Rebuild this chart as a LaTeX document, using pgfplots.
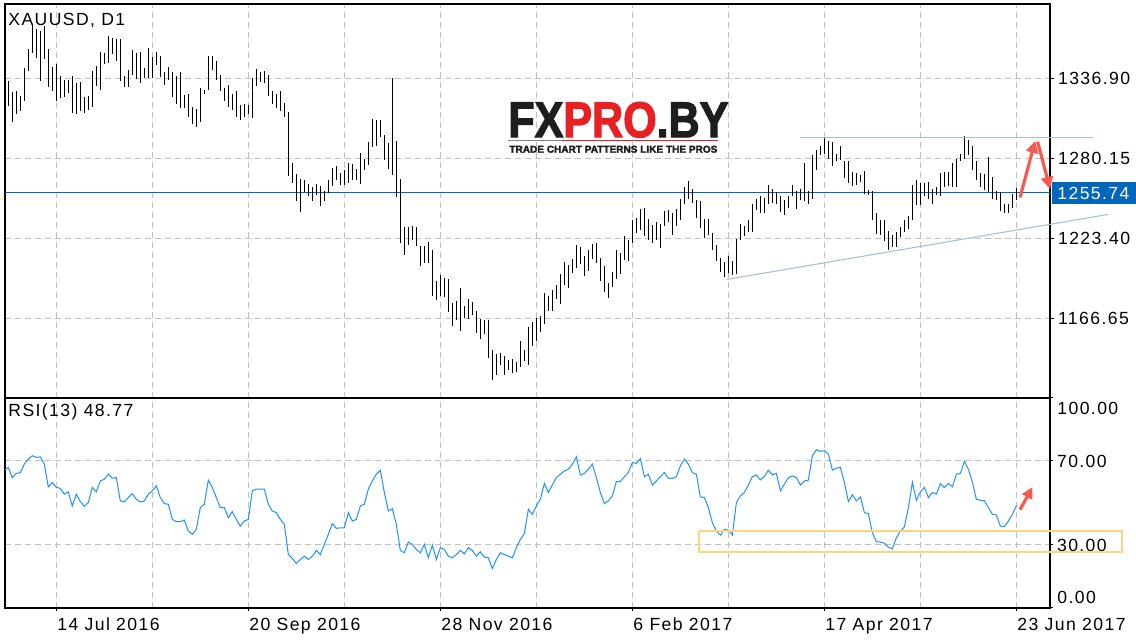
\documentclass[border=0pt]{standalone}
\usepackage{fontspec}
\setmainfont{Liberation Sans}[LetterSpace=8]
\newfontfamily\logofont{Liberation Sans}[BoldFeatures={FakeBold=2.5}]
\usepackage{graphicx}
\usepackage{pgfplots}
\pgfplotsset{compat=1.18}
\usepackage{pgfplotstable}
\usetikzlibrary{arrows.meta}

\definecolor{gridgray}{RGB}{192,192,192}
\definecolor{linblue}{RGB}{0,102,187}
\definecolor{rsiblue}{RGB}{30,144,255}
\definecolor{trend}{RGB}{165,194,212}
\definecolor{arrred}{RGB}{250,90,78}
\definecolor{boxyel}{RGB}{250,214,125}
\definecolor{logored}{RGB}{232,32,36}
\definecolor{logoblk}{RGB}{30,30,30}

\newcommand\tickfont{\fontsize{8.8}{10}\selectfont}

% daily bars: index, low, high
\pgfplotstableread{
i l h
0 1317.5 1335.3
1 1305.7 1327.0
2 1311.8 1328.4
3 1313.5 1324.6
4 1320.6 1344.3
5 1342.6 1357.8
6 1355.4 1375.0
7 1351.4 1372.0
8 1335.5 1371.0
9 1350.7 1374.3
10 1330.8 1357.8
11 1327.7 1345.4
12 1320.6 1347.1
13 1322.9 1338.8
14 1324.1 1336.0
15 1326.5 1336.0
16 1312.3 1338.8
17 1311.6 1333.6
18 1313.5 1334.1
19 1312.3 1324.1
20 1314.7 1324.6
21 1316.5 1342.4
22 1331.7 1345.9
23 1328.9 1355.6
24 1347.1 1354.9
25 1347.8 1367.2
26 1354.4 1365.6
27 1349.7 1364.9
28 1335.5 1364.9
29 1330.8 1338.8
30 1331.2 1343.1
31 1339.5 1357.3
32 1336.4 1354.9
33 1333.6 1356.1
34 1337.2 1344.3
35 1337.2 1358.5
36 1337.2 1351.9
37 1346.6 1356.1
38 1338.3 1353.0
39 1332.4 1341.9
40 1336.0 1345.4
41 1324.1 1341.9
42 1318.9 1338.8
43 1315.8 1341.9
44 1315.8 1325.3
45 1309.9 1325.8
46 1304.7 1316.5
47 1302.8 1315.4
48 1305.7 1330.0
49 1325.8 1328.9
50 1328.9 1353.0
51 1343.1 1353.0
52 1336.0 1349.5
53 1328.4 1339.5
54 1320.6 1330.5
55 1316.5 1332.4
56 1314.7 1326.0
57 1309.9 1328.2
58 1307.1 1318.2
59 1309.9 1318.9
60 1311.8 1318.2
61 1308.7 1337.2
62 1331.7 1343.5
63 1334.1 1341.2
64 1333.6 1342.4
65 1324.6 1339.5
66 1318.7 1328.4
67 1315.8 1326.0
68 1313.5 1328.4
69 1309.9 1319.4
70 1267.3 1313.0
71 1262.6 1276.8
72 1250.2 1269.2
73 1241.7 1265.4
74 1255.9 1264.9
75 1253.1 1262.1
76 1250.2 1259.7
77 1254.3 1262.1
78 1246.5 1260.2
79 1250.0 1257.1
80 1255.5 1264.9
81 1260.7 1273.2
82 1264.9 1274.9
83 1261.4 1269.7
84 1260.9 1272.0
85 1262.6 1276.8
86 1264.9 1276.3
87 1264.9 1272.5
88 1262.1 1283.9
89 1271.6 1279.6
90 1275.6 1291.7
91 1287.9 1308.3
92 1288.6 1307.6
93 1295.0 1307.6
94 1278.7 1296.9
95 1272.7 1291.0
96 1268.0 1337.2
97 1252.4 1292.2
98 1219.9 1265.4
99 1211.7 1231.3
100 1218.7 1231.3
101 1221.8 1232.3
102 1217.6 1231.3
103 1203.4 1217.6
104 1205.7 1217.6
105 1205.7 1220.6
106 1182.1 1215.2
107 1179.2 1193.2
108 1182.1 1197.5
109 1181.3 1195.1
110 1170.7 1194.6
111 1160.7 1177.3
112 1165.5 1178.5
113 1157.2 1188.0
114 1166.7 1175.4
115 1165.9 1180.2
116 1169.0 1178.0
117 1156.0 1171.9
118 1151.7 1165.9
119 1155.5 1165.0
120 1138.2 1165.5
121 1122.9 1144.2
122 1126.4 1141.3
123 1133.5 1141.8
124 1125.9 1139.9
125 1129.5 1137.0
126 1127.6 1137.5
127 1128.1 1135.4
128 1131.6 1150.5
129 1135.9 1144.2
130 1133.5 1160.0
131 1146.5 1163.6
132 1150.1 1166.7
133 1156.5 1167.8
134 1162.6 1184.4
135 1171.4 1182.5
136 1171.4 1186.3
137 1180.4 1190.3
138 1176.8 1198.2
139 1190.3 1206.4
140 1188.0 1204.1
141 1198.6 1208.6
142 1202.2 1218.3
143 1205.3 1217.1
144 1196.3 1210.5
145 1199.8 1215.2
146 1208.8 1219.2
147 1205.7 1219.9
148 1193.2 1209.3
149 1184.9 1203.4
150 1180.9 1191.5
151 1188.7 1199.1
152 1194.4 1215.2
153 1198.2 1212.8
154 1208.1 1224.7
155 1206.9 1221.8
156 1219.9 1236.5
157 1227.0 1237.7
158 1229.4 1244.3
159 1224.7 1244.8
160 1222.3 1237.0
161 1219.9 1232.9
162 1221.8 1234.6
163 1216.4 1233.7
164 1232.3 1242.4
165 1234.6 1243.6
166 1225.9 1241.2
167 1231.8 1244.3
168 1236.0 1251.4
169 1247.9 1259.7
170 1251.2 1264.2
171 1248.4 1258.5
172 1237.7 1250.7
173 1230.6 1250.2
174 1223.5 1237.0
175 1225.9 1237.2
176 1214.7 1227.0
177 1206.9 1218.7
178 1199.1 1209.3
179 1195.6 1206.4
180 1198.6 1210.5
181 1197.5 1207.4
182 1198.2 1222.8
183 1222.3 1233.4
184 1224.7 1231.8
185 1227.7 1236.0
186 1227.5 1247.9
187 1243.6 1251.2
188 1241.2 1253.1
189 1241.2 1251.9
190 1247.9 1261.4
191 1248.4 1258.5
192 1247.9 1255.9
193 1242.0 1253.6
194 1239.6 1250.7
195 1244.8 1253.6
196 1253.6 1261.4
197 1244.1 1256.6
198 1250.7 1258.5
199 1250.2 1277.2
200 1247.6 1257.3
201 1251.4 1282.2
202 1272.0 1286.2
203 1282.2 1289.1
204 1283.4 1295.2
205 1279.6 1292.2
206 1274.9 1291.7
207 1278.0 1283.4
208 1278.7 1288.6
209 1266.1 1278.0
210 1262.6 1278.0
211 1260.2 1270.4
212 1261.4 1269.7
213 1263.0 1268.5
214 1254.7 1271.3
215 1254.3 1257.8
216 1236.0 1257.1
217 1226.3 1241.2
218 1225.9 1236.0
219 1221.1 1236.5
220 1214.7 1228.7
221 1217.1 1225.9
222 1217.1 1227.7
223 1224.2 1231.3
224 1227.5 1236.0
225 1229.9 1239.3
226 1236.5 1261.4
227 1246.7 1264.5
228 1247.2 1262.6
229 1253.1 1262.6
230 1251.4 1263.7
231 1247.9 1258.3
232 1254.3 1259.7
233 1253.6 1270.1
234 1259.7 1270.8
235 1260.7 1270.8
236 1259.7 1277.2
237 1259.7 1279.6
238 1278.0 1283.4
239 1279.6 1295.7
240 1282.7 1292.9
241 1271.6 1289.1
242 1264.9 1278.0
243 1259.7 1270.1
244 1257.8 1269.2
245 1255.9 1281.0
246 1251.4 1266.8
247 1250.7 1256.6
248 1242.4 1255.9
249 1241.2 1247.9
250 1241.2 1247.9
251 1244.8 1255.0
252 1250.7 1259.0
}\bars

% RSI(13)
\pgfplotstableread{
i r
-0.8 65.8
0 66.9
1 62.1
2 64.1
3 64.4
4 68.5
5 70.9
6 72.5
7 71.7
8 72.0
9 68.5
10 57.7
11 59.8
12 57.4
13 57.0
14 54.2
15 55.3
16 48.6
17 54.2
18 50.7
19 48.4
20 50.2
21 57.4
22 55.3
23 60.5
24 61.3
25 63.7
26 61.8
27 62.1
28 51.0
29 50.5
30 52.6
31 54.5
32 51.8
33 50.5
34 51.0
35 54.2
36 55.8
37 58.2
38 52.6
39 49.7
40 49.4
41 42.2
42 41.1
43 41.1
44 41.9
45 36.6
46 35.1
47 37.4
48 47.8
49 49.4
50 60.9
51 57.4
52 52.6
53 47.8
54 47.8
55 43.0
56 45.9
57 42.2
58 39.0
59 41.4
60 42.2
61 55.8
62 56.6
63 56.6
64 56.6
65 49.4
66 46.2
67 45.4
68 42.2
69 39.8
70 25.5
71 23.6
72 21.2
73 23.1
74 24.7
75 23.1
76 24.7
77 27.4
78 25.5
79 30.3
80 35.1
81 40.2
82 37.9
83 38.2
84 38.2
85 45.4
86 41.4
87 42.2
88 48.6
89 49.4
90 56.6
91 60.5
92 63.7
93 65.6
94 55.0
95 46.2
96 47.3
97 39.8
98 27.4
99 26.3
100 31.4
101 30.3
102 27.9
103 26.3
104 30.3
105 23.9
106 30.0
107 23.1
108 28.7
109 27.9
110 24.7
111 23.9
112 25.5
113 27.4
114 25.8
115 28.7
116 27.4
117 24.7
118 26.8
119 24.2
120 23.9
121 18.8
122 23.1
123 26.3
124 25.5
125 24.7
126 23.9
127 28.7
128 32.7
129 35.4
130 47.0
131 44.6
132 48.6
133 51.8
134 59.3
135 55.0
136 58.6
137 62.1
138 63.7
139 65.3
140 66.1
141 68.5
142 72.0
143 63.3
144 64.1
145 66.1
146 68.5
147 62.1
148 55.0
149 49.7
150 51.0
151 53.4
152 60.2
153 60.2
154 62.5
155 64.5
156 69.3
157 68.8
158 71.2
159 62.5
160 63.7
161 58.6
162 60.5
163 62.5
164 64.5
165 61.8
166 61.7
167 62.5
168 67.7
169 70.9
170 68.5
171 64.5
172 63.7
173 52.9
174 52.6
175 47.8
176 40.6
177 36.6
178 34.7
179 37.4
180 37.1
181 34.7
182 50.2
183 53.4
184 55.0
185 58.6
186 62.5
187 63.3
188 61.0
189 62.6
190 65.6
191 63.4
192 64.1
193 55.8
194 59.0
195 62.1
196 62.9
197 62.1
198 58.6
199 60.5
200 60.9
201 72.5
202 75.4
203 74.6
204 74.9
205 73.3
206 65.6
207 66.6
208 66.9
209 59.8
210 50.7
211 53.9
212 51.0
213 52.9
214 45.4
215 44.9
216 35.9
217 31.5
218 31.4
219 30.8
220 29.0
221 28.2
222 33.5
223 36.6
224 38.6
225 47.8
226 59.8
227 51.3
228 55.3
229 57.4
230 52.6
231 55.0
232 54.2
233 59.3
234 57.4
235 59.3
236 57.7
237 63.7
238 64.1
239 69.8
240 66.1
241 59.8
242 51.8
243 51.3
244 51.0
245 47.8
246 44.6
247 44.3
248 39.0
249 38.7
250 41.4
251 44.6
252 48.77
}\rsi

\pgfplotsset{
  panel/.style={
    scale only axis, width=522.5pt, xmin=-0.825, xmax=260.4,
    axis line style={black, line width=0.6pt},
    grid style={gridgray, line width=0.5pt, dash pattern=on 3pt off 2pt},
    minor grid style={gridgray, line width=0.5pt, dash pattern=on 3pt off 2pt},
    xtick={12,60,...,252}, minor xtick={36,84,...,228},
    xmajorgrids, xminorgrids, ymajorgrids,
    xtick pos=left, ytick pos=right, yticklabel pos=right,
    tick align=outside, major tick length=2pt, minor tick length=0pt,
    tick style={black, line width=0.5pt},
    tick label style={font=\tickfont, text=black},
    yticklabel style={anchor=west, xshift=-1.5pt},
    /pgf/number format/assume math mode=true,
    clip=false,
  },
}

\begin{document}
\begin{tikzpicture}[x=1pt, y=1pt]
\useasboundingbox (0,0) rectangle (568,-320);

% price panel
\begin{axis}[panel,
  at={(2.5pt,-2pt)}, anchor=north west, height=197pt,
  ymin=1109.8, ymax=1389.9,
  ytick={1166.65,1223.40,1280.15,1336.90},
  yticklabels={1166.65,1223.40,1280.15,1336.90},
  xticklabels={}, xtick style={draw=none},
]
\addplot[linblue, line width=0.6pt, forget plot] coordinates {(-0.825,1255.74) (260.4,1255.74)};
% high-low bars: a vertical stroke from each high down to the low
\addplot[draw=none, mark=none,
  error bars/.cd, y dir=minus, y explicit, error mark=none,
  error bar style={draw=black, line width=0.55pt}]
  table[x=i, y=h, y error minus expr=\thisrow{h}-\thisrow{l}] {\bars};
% trend lines
\addplot[trend, line width=0.55pt] coordinates {(197.9,1294.9) (271.2,1294.9)};
\addplot[trend, line width=0.55pt] coordinates {(179.7,1194.1) (274.9,1240.3)};
% projected move
\addplot[arrred, line width=1.6pt, -{Triangle[length=6pt, width=6pt]}]
  coordinates {(252.9,1252.4) (256.7,1292.6)};
\addplot[arrred, line width=1.6pt, -{Triangle[length=6pt, width=6pt]}]
  coordinates {(257.3,1292.0) (260.4,1258.5)};
\end{axis}

% RSI panel
\begin{axis}[panel,
  at={(2.5pt,-199pt)}, anchor=north west, height=105pt,
  ymin=0, ymax=100,
  ytick={0,30,70,100}, yticklabels={,30.00,70.00,},
  xticklabels={14 Jul 2016,20 Sep 2016,28 Nov 2016,6 Feb 2017,17 Apr 2017,23 Jun 2017},
  xticklabel style={anchor=north west, xshift=-3pt},
  major tick length=1.5pt,
]
\addplot[rsiblue, line width=0.5pt] table[x=i, y=r] {\rsi};
\addplot[boxyel, line width=0.7pt] coordinates {(172.7,36.7) (278.4,36.7) (278.4,26.6) (172.7,26.6) (172.7,36.7)};
\addplot[arrred, line width=1.6pt, -{Triangle[length=5.5pt, width=5.5pt]}]
  coordinates {(252.9,46.8) (256.0,57.5)};
\end{axis}

% right axis extras
\fill[linblue] (526,-91) rectangle (568,-102);
\node[anchor=west, text=white, font=\tickfont, inner sep=0] at (528.5,-96.5) {1255.74};
\node[anchor=west, font=\tickfont, inner sep=0] at (528.5,-204) {100.00};
\node[anchor=west, font=\tickfont, inner sep=0] at (528.5,-298.5) {0.00};

% panel titles
\node[anchor=base west, font=\tickfont, inner sep=0] at (4,-13) {XAUUSD, D1};
\node[anchor=base west, font=\tickfont, inner sep=0] at (4,-208.2) {RSI(13) 48.77};

% watermark
\node[anchor=south west, inner sep=0] at (254,-69)
  {\resizebox{110pt}{17.5pt}{\logofont\bfseries\textcolor{logoblk}{FX}\textcolor{logored}{PRO}\textcolor{logoblk}{.BY}}};
\draw[gray, line width=0.6pt] (254,-70.3) -- (281,-70.3);
\draw[logored, line width=0.6pt] (281,-70.3) -- (359,-70.3);
\node[anchor=south west, inner sep=0] at (254.5,-76.6)
  {\resizebox{104pt}{3.5pt}{\logofont\bfseries\textcolor{logoblk}{TRADE CHART PATTERNS LIKE THE PROS}}};
\end{tikzpicture}
\end{document}
